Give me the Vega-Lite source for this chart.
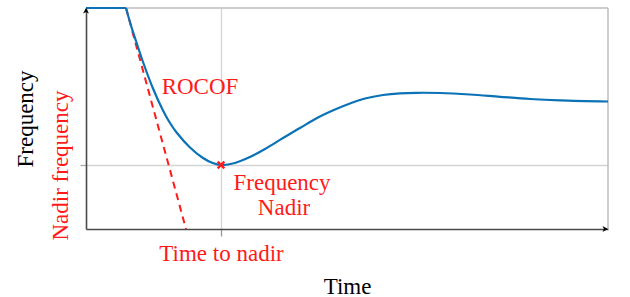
{
  "$schema": "https://vega.github.io/schema/vega-lite/v6.json",
  "width": 522,
  "height": 221,
  "autosize": "none",
  "padding": {"left": 86, "top": 8, "right": 22, "bottom": 68},
  "background": "white",
  "config": {"view": {"stroke": null}, "font": "Liberation Serif"},
  "datasets": {
    "frame": [{"t0": 0, "t1": 522, "f0": 0, "f1": 221}],
    "flat": [{"t": 0, "f": 221}, {"t": 40, "f": 221}],
    "curve": [
      {"t": 40, "f": 221}, {"t": 45, "f": 203.5}, {"t": 50, "f": 188},
      {"t": 57, "f": 167}, {"t": 67, "f": 140.5}, {"t": 77, "f": 118.5}, {"t": 84, "f": 106},
      {"t": 91, "f": 96}, {"t": 104, "f": 81.5}, {"t": 117, "f": 71}, {"t": 126, "f": 66.3}, {"t": 135, "f": 64},
      {"t": 149, "f": 66}, {"t": 164, "f": 72}, {"t": 179, "f": 80}, {"t": 197, "f": 91},
      {"t": 214, "f": 101}, {"t": 231, "f": 111}, {"t": 249, "f": 119.5}, {"t": 264, "f": 125.5},
      {"t": 279, "f": 130.5}, {"t": 297, "f": 134}, {"t": 314, "f": 135.7}, {"t": 331, "f": 136.2},
      {"t": 354, "f": 136}, {"t": 384, "f": 134.5}, {"t": 414, "f": 132.2}, {"t": 444, "f": 130},
      {"t": 474, "f": 128.6}, {"t": 522, "f": 127.5}
    ],
    "rocof": [{"t": 40, "f": 221}, {"t": 100, "f": 0}],
    "nadir": [{"t": 135, "f": 64}],
    "labels": [
      {"t": 114, "f": 135, "text": "ROCOF"},
      {"t": 196, "f": 39, "text": "Frequency"},
      {"t": 198, "f": 14, "text": "Nadir"}
    ],
    "arrowUp": [{"t": 0, "f": 221}],
    "arrowRight": [{"t": 522, "f": 0}]
  },
  "layer": [
    {
      "data": {"name": "frame"},
      "mark": {"type": "rule", "color": "#bdbdbd", "strokeWidth": 1.5},
      "encoding": {
        "x": {"field": "t0", "type": "quantitative", "scale": {"domain": [0, 522], "nice": false, "zero": false},
          "axis": {
            "values": [135], "labelExpr": "'Time to nadir'", "labelColor": "#ff1a1a", "labelFontSize": 23,
            "labelFont": "Liberation Serif", "labelFontWeight": "normal",
            "labelBaseline": "alphabetic", "labelPadding": 24,
            "tickSize": 7, "tickColor": "#999999", "tickWidth": 1.3,
            "grid": true, "gridColor": "#d4d4d4", "gridWidth": 1.3,
            "domainColor": "#4a4a4a", "domainWidth": 1.6,
            "title": "Time", "titleFontSize": 23, "titleFontWeight": "normal",
            "titleColor": "black", "titlePadding": 10
          }},
        "x2": {"field": "t1"},
        "y": {"field": "f1", "type": "quantitative", "scale": {"domain": [0, 221], "nice": false, "zero": false},
          "axis": {
            "values": [64], "labelExpr": "'Nadir frequency'", "labelColor": "#ff1a1a", "labelFontSize": 23,
            "labelFont": "Liberation Serif", "labelFontWeight": "normal",
            "labelAngle": 270, "labelAlign": "center", "labelBaseline": "alphabetic",
            "labelPadding": 13, "tickSize": 6, "tickColor": "#aaaaaa", "tickWidth": 1.3,
            "grid": true, "gridColor": "#d4d4d4", "gridWidth": 1.3,
            "domainColor": "#4a4a4a", "domainWidth": 1.6,
            "title": "Frequency", "titleFontSize": 23, "titleFontWeight": "normal",
            "titleColor": "black", "titlePadding": 12
          }}
      }
    },
    {
      "data": {"name": "frame"},
      "mark": {"type": "rule", "color": "#bdbdbd", "strokeWidth": 1.5},
      "encoding": {
        "x": {"field": "t1", "type": "quantitative"},
        "y": {"field": "f0", "type": "quantitative"},
        "y2": {"field": "f1"}
      }
    },
    {
      "data": {"name": "rocof"},
      "mark": {"type": "line", "color": "#ff1a1a", "strokeWidth": 2, "strokeDash": [7, 5]},
      "encoding": {"x": {"field": "t", "type": "quantitative"}, "y": {"field": "f", "type": "quantitative"}}
    },
    {
      "data": {"name": "flat"},
      "mark": {"type": "line", "color": "#0a72b5", "strokeWidth": 2.2},
      "encoding": {"x": {"field": "t", "type": "quantitative"}, "y": {"field": "f", "type": "quantitative"}}
    },
    {
      "data": {"name": "curve"},
      "mark": {"type": "line", "color": "#0a72b5", "strokeWidth": 2.2, "interpolate": "catmull-rom"},
      "encoding": {"x": {"field": "t", "type": "quantitative"}, "y": {"field": "f", "type": "quantitative"}}
    },
    {
      "data": {"name": "nadir"},
      "mark": {"type": "point", "shape": "M-1,-1L1,1M-1,1L1,-1", "stroke": "#ff1a1a", "strokeWidth": 2.2, "size": 45, "filled": false, "opacity": 1},
      "encoding": {"x": {"field": "t", "type": "quantitative"}, "y": {"field": "f", "type": "quantitative"}}
    },
    {
      "data": {"name": "labels"},
      "mark": {"type": "text", "color": "#ff1a1a", "font": "Liberation Serif", "fontWeight": "normal", "fontSize": 23, "baseline": "alphabetic", "align": "center"},
      "encoding": {"x": {"field": "t", "type": "quantitative"}, "y": {"field": "f", "type": "quantitative"}, "text": {"field": "text"}}
    },
    {
      "data": {"name": "arrowUp"},
      "mark": {"type": "point", "shape": "M0,0L-0.6,1.1L0,0.8L0.6,1.1Z", "filled": true, "color": "black", "size": 100, "opacity": 1},
      "encoding": {"x": {"field": "t", "type": "quantitative"}, "y": {"field": "f", "type": "quantitative"}}
    },
    {
      "data": {"name": "arrowRight"},
      "mark": {"type": "point", "shape": "M0,0L-1.1,-0.6L-0.8,0L-1.1,0.6Z", "filled": true, "color": "black", "size": 100, "opacity": 1},
      "encoding": {"x": {"field": "t", "type": "quantitative"}, "y": {"field": "f", "type": "quantitative"}}
    }
  ]
}
